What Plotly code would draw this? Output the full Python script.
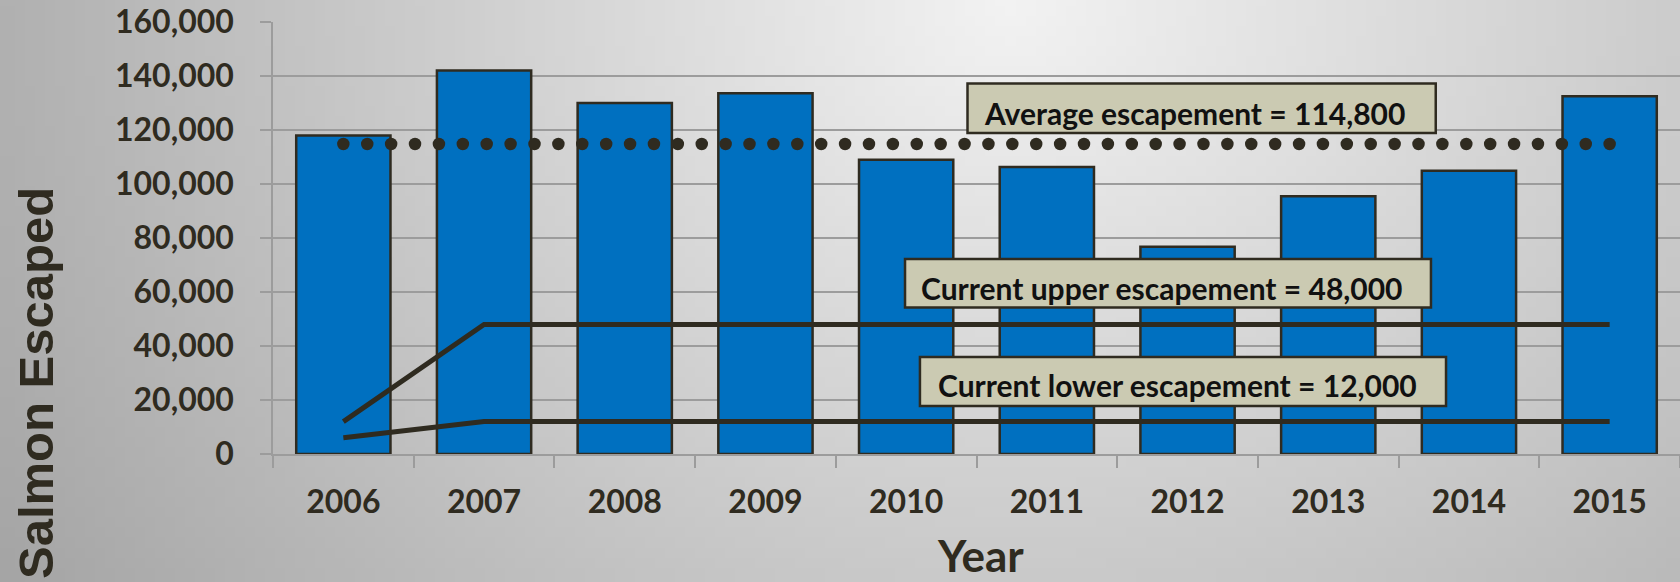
import base64
import struct
import zlib

import numpy as np
import plotly.graph_objects as go

# ---------------- data ----------------
years = ["2006", "2007", "2008", "2009", "2010", "2011", "2012", "2013", "2014", "2015"]
salmon_escaped = [118000, 142000, 130000, 133600, 109000, 106300, 76800, 95500, 104900, 132500]
average_escapement = 114800
upper_escapement = [12000, 48000, 48000, 48000, 48000, 48000, 48000, 48000, 48000, 48000]
lower_escapement = [6000, 12000, 12000, 12000, 12000, 12000, 12000, 12000, 12000, 12000]
y_ticks = [0, 20000, 40000, 60000, 80000, 100000, 120000, 140000, 160000]
label_avg = "Average escapement = 114,800"
label_upper = "Current upper escapement = 48,000"
label_lower = "Current lower escapement = 12,000"

# ---------------- style ----------------
W, H = 1680, 582
ML, MR, MT, MB = 273, 0, 22, 128
PW, PH = W - ML - MR, H - MT - MB
DARK = "#2f2b20"
BLUE = "#0070C0"
GRID = "#9c9c9c"
BOX = "#cbcab2"


def gradient_png(w, h):
    rows = []
    for j in range(h):
        t = j / (h - 1)
        row = bytearray([0])
        for i in range(w):
            u = i / (w - 1)
            dx = (u - 0.6) / (0.6 if u < 0.6 else 0.68)
            dy = t / 1.6
            d = (dx * dx + dy * dy) ** 0.5
            v = int(max(150, min(245, 243 - 66 * d)))
            row += bytes([v, v, v])
        rows.append(bytes(row))
    raw = b"".join(rows)

    def chunk(tag, data):
        c = struct.pack(">I", len(data)) + tag + data
        return c + struct.pack(">I", zlib.crc32(tag + data) & 0xFFFFFFFF)

    png = b"\x89PNG\r\n\x1a\n"
    png += chunk(b"IHDR", struct.pack(">IIBBBBB", w, h, 8, 2, 0, 0, 0))
    png += chunk(b"IDAT", zlib.compress(raw, 9))
    png += chunk(b"IEND", b"")
    return "data:image/png;base64," + base64.b64encode(png).decode()


fig = go.Figure()

fig.add_trace(go.Bar(
    x=years, y=salmon_escaped,
    marker=dict(color=BLUE, line=dict(color=DARK, width=2.5)),
    hoverinfo="skip",
))
fig.add_trace(go.Scatter(
    x=years, y=upper_escapement, mode="lines",
    line=dict(color=DARK, width=5), hoverinfo="skip",
))
fig.add_trace(go.Scatter(
    x=years, y=lower_escapement, mode="lines",
    line=dict(color=DARK, width=5), hoverinfo="skip",
))
dot_x = np.linspace(0, len(years) - 1, 54)
fig.add_trace(go.Scatter(
    x=dot_x, y=[average_escapement] * len(dot_x), mode="markers",
    marker=dict(color=DARK, size=12.5), xaxis="x2", hoverinfo="skip",
))

# label boxes (x in category units, y in data units)
boxes = [
    (4.436, 7.764, 118930, 137185, label_avg, 6.051, 126300),
    (3.992, 7.730, 54260, 72220, label_upper, 5.821, 61300),
    (4.098, 7.837, 17780, 35930, label_lower, 5.925, 25400),
]
for x0, x1, y0, y1, txt, tx, ty in boxes:
    fig.add_shape(type="rect", xref="x2", yref="y", x0=x0, x1=x1, y0=y0, y1=y1,
                  fillcolor=BOX, line=dict(color=DARK, width=2.5), layer="above")
    fig.add_annotation(xref="x2", yref="y", x=tx, y=ty, text=txt, showarrow=False,
                       xanchor="center", yanchor="middle",
                       font=dict(family="Lato", size=30, color="#111111", weight="bold"))

fig.add_annotation(xref="paper", yref="paper", x=(36 - ML) / PW, y=(H - MB - 383) / PH,
                   xanchor="center", yanchor="middle",
                   text="Salmon Escaped", textangle=-90, showarrow=False,
                   font=dict(family="Liberation Sans", size=49, color=DARK, weight="bold"))
fig.add_annotation(xref="paper", yref="paper", x=(980 - ML) / PW, y=(H - MB - 555) / PH,
                   xanchor="center", yanchor="middle",
                   text="Year", showarrow=False,
                   font=dict(family="Lato", size=44, color=DARK, weight="bold"))

fig.update_layout(
    width=W, height=H,
    margin=dict(l=ML, r=MR, t=MT, b=MB, pad=0),
    paper_bgcolor="#cfcfcf",
    plot_bgcolor="rgba(0,0,0,0)",
    showlegend=False,
    bargap=0.33,
    images=[dict(source=gradient_png(168, 58), xref="paper", yref="paper",
                 x=-ML / PW, y=1 + MT / PH, sizex=W / PW, sizey=H / PH,
                 xanchor="left", yanchor="top", sizing="stretch", layer="below")],
    xaxis=dict(
        type="category", range=[-0.5, 9.5], tickson="boundaries",
        ticks="outside", ticklen=12, tickwidth=1.5, tickcolor=GRID,
        showline=True, linecolor=GRID, linewidth=1.5, showgrid=False,
        tickfont=dict(family="Lato", size=32, color=DARK, weight="bold"),
        ticklabelstandoff=19,
    ),
    xaxis2=dict(overlaying="x", range=[-0.5, 9.5], visible=False),
    yaxis=dict(
        range=[0, 160000], tickvals=y_ticks, tickformat=",d",
        ticks="outside", ticklen=11, tickwidth=1.5, tickcolor=GRID,
        showline=True, linecolor=GRID, linewidth=1.5,
        showgrid=True, gridcolor=GRID, gridwidth=1.5, zeroline=False,
        tickfont=dict(family="Lato", size=32, color=DARK, weight="bold"),
        ticklabelstandoff=20,
    ),
)

fig.write_html(
    "out.html",
    config={"displayModeBar": False},
    post_script="document.body.style.margin='0';document.body.style.overflow='hidden';",
)
